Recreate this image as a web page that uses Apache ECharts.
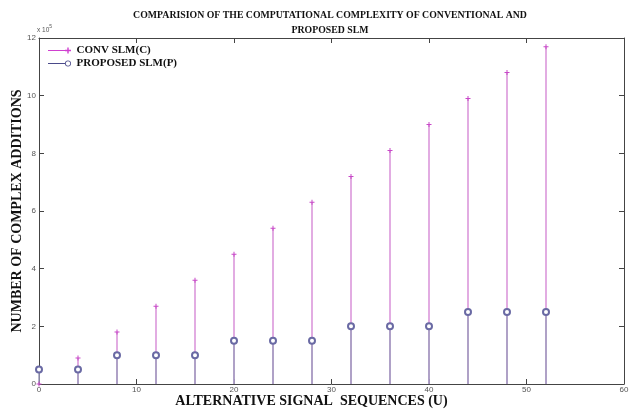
<!DOCTYPE html>
<html>
<head>
<meta charset="utf-8">
<script src="https://cdn.jsdelivr.net/npm/echarts@6/dist/echarts.min.js"></script>
<style>html,body{margin:0;padding:0;background:#fff;}#c{width:639px;height:413px;}</style>
</head>
<body>
<div id="c"></div>
<script>
var signalSequences = [0, 4, 8, 12, 16, 20, 24, 28, 32, 36, 40, 44, 48, 52];
var convAdditions = [0, 0.9, 1.8, 2.7, 3.6, 4.5, 5.4, 6.3, 7.2, 8.1, 9.0, 9.9, 10.8, 11.7];
var proposedAdditions = [0.5, 0.5, 1.0, 1.0, 1.0, 1.5, 1.5, 1.5, 2.0, 2.0, 2.0, 2.5, 2.5, 2.5];
var xTicks = [0, 10, 20, 30, 40, 50, 60];
var yTicks = [0, 2, 4, 6, 8, 10, 12];

var convData = signalSequences.map(function (u, i) { return [u, convAdditions[i]]; });
var propData = signalSequences.map(function (u, i) { return [u, proposedAdditions[i]]; });

function stemRenderer(color) {
  return function (params, api) {
    var top = api.coord([api.value(0), api.value(1)]);
    var base = api.coord([api.value(0), 0]);
    return {
      type: 'line',
      shape: { x1: top[0], y1: top[1], x2: base[0], y2: base[1] },
      style: { stroke: color, lineWidth: 1.5 }
    };
  };
}

var serif = '"Liberation Serif", "Times New Roman", serif';
var sans = 'Arial, "Liberation Sans", sans-serif';
var plusPath = 'path://M4,0 L6,0 L6,4 L10,4 L10,6 L6,6 L6,10 L4,10 L4,6 L0,6 L0,4 L4,4 Z';
var axisColor = '#444';

var chart = echarts.init(document.getElementById('c'), null, { renderer: 'canvas' });
chart.setOption({
  animation: false,
  backgroundColor: '#ffffff',
  title: {
    text: 'COMPARISION OF THE COMPUTATIONAL COMPLEXITY OF CONVENTIONAL AND\nPROPOSED SLM',
    left: 325, top: 3, textAlign: 'center',
    textStyle: { fontFamily: serif, fontWeight: 'bold', fontSize: 9.8, color: '#111', lineHeight: 15 }
  },
  legend: {
    orient: 'vertical', left: 43, top: 40, itemGap: 2,
    itemWidth: 24, itemHeight: 6,
    textStyle: { fontFamily: serif, fontWeight: 'bold', fontSize: 11, color: '#111' },
    data: [
      { name: 'CONV SLM(C)', icon: 'path://M0,4.6 L18,4.6 L18,5.4 L0,5.4 Z M19.3,2 L20.7,2 L20.7,4.3 L23,4.3 L23,5.7 L20.7,5.7 L20.7,8 L19.3,8 L19.3,5.7 L17,5.7 L17,4.3 L19.3,4.3 Z', itemStyle: { color: '#d040d0', borderWidth: 0 } },
      { name: 'PROPOSED SLM(P)', icon: 'path://M0,4.6 L17,4.6 L17,5.4 L0,5.4 Z M20,2 A3,3 0 1 1 19.99,2 Z M20,2.8 A2.2,2.2 0 1 0 20.01,2.8 Z', itemStyle: { color: '#4a4a8a', borderWidth: 0 } }
    ]
  },
  grid: { left: 39, right: 15, top: 38, bottom: 29, outerBoundsMode: 'none', containLabel: false },
  xAxis: [{
    type: 'value', min: 0, max: 60, interval: 10,
    name: 'ALTERNATIVE SIGNAL  SEQUENCES (U)', nameLocation: 'middle', nameGap: 10, nameMoveOverlap: false,
    nameTextStyle: { fontFamily: serif, fontWeight: 'bold', fontSize: 14, color: '#111', padding: [0, 40, 0, 0] },
    axisLine: { onZero: false, lineStyle: { color: axisColor, width: 1 } },
    axisTick: { inside: true, length: 5, lineStyle: { color: axisColor } },
    axisLabel: { fontSize: 8, color: '#555', margin: 2, fontFamily: sans },
    splitLine: { show: false }
  }, {
    type: 'value', min: 0, max: 60, interval: 10, position: 'top',
    axisLine: { show: true, onZero: false, lineStyle: { color: axisColor, width: 1 } },
    axisTick: { inside: true, length: 5, lineStyle: { color: axisColor } },
    axisLabel: { show: false }, splitLine: { show: false }
  }],
  yAxis: [{
    type: 'value', min: 0, max: 12, interval: 2,
    name: 'NUMBER OF COMPLEX ADDITIONS', nameLocation: 'middle', nameGap: 15, nameMoveOverlap: false,
    nameTextStyle: { fontFamily: serif, fontWeight: 'bold', fontSize: 14, color: '#111' },
    axisLine: { show: true, onZero: false, lineStyle: { color: axisColor, width: 1 } },
    axisTick: { show: true, inside: true, length: 5, lineStyle: { color: axisColor } },
    axisLabel: { fontSize: 8, color: '#555', margin: 3, fontFamily: sans },
    splitLine: { show: false }
  }, {
    type: 'value', min: 0, max: 12, interval: 2, position: 'right',
    axisLine: { show: true, onZero: false, lineStyle: { color: axisColor, width: 1 } },
    axisTick: { show: true, inside: true, length: 5, lineStyle: { color: axisColor } },
    axisLabel: { show: false }, splitLine: { show: false }
  }],
  graphic: [{
    type: 'text', left: 37, top: 24,
    style: {
      text: '{a|x 10}{b|5}',
      rich: {
        a: { fontSize: 6.5, fill: '#555', fontFamily: sans, padding: [3, 0, 0, 0] },
        b: { fontSize: 5, fill: '#555', fontFamily: sans, verticalAlign: 'top' }
      }
    }
  }],
  series: [
    { name: 'convStem', type: 'custom', renderItem: stemRenderer('#d890d8'), data: convData, z: 2 },
    { name: 'propStem', type: 'custom', renderItem: stemRenderer('#9e9ebe'), data: propData, z: 3 },
    { name: 'CONV SLM(C)', type: 'scatter', data: convData, symbol: plusPath, symbolSize: 5,
      itemStyle: { color: '#c848c8', opacity: 1 }, z: 4 },
    { name: 'PROPOSED SLM(P)', type: 'scatter', data: propData, symbol: 'emptyCircle', symbolSize: 6,
      itemStyle: { color: '#6a6aa4', borderColor: '#6a6aa4', borderWidth: 1, opacity: 1 }, z: 5 }
  ]
});
</script>
</body>
</html>
